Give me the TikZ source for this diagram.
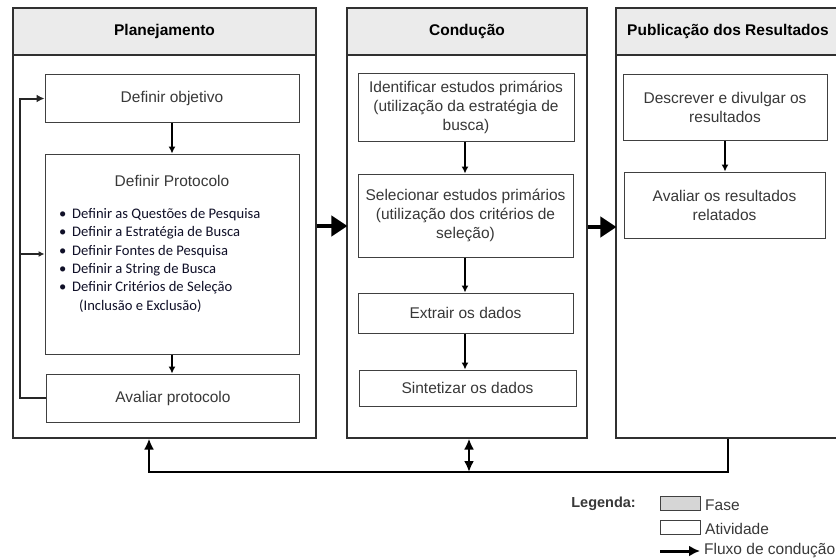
\documentclass[tikz,border=0pt]{standalone}
\usepackage{fontspec}
\setmainfont{Liberation Sans}
\newfontfamily\calib{Carlito}
\usetikzlibrary{arrows.meta}
\definecolor{headfill}{HTML}{EBEBEB}
\definecolor{legfill}{HTML}{D6D6D6}
\definecolor{actline}{HTML}{404040}
\definecolor{acttext}{HTML}{383838}
\definecolor{phaseline}{HTML}{303030}
\definecolor{bullettext}{HTML}{101028}
\tikzset{
  phasebox/.style={draw=phaseline, line width=1.1pt, fill=white, inner sep=0pt},
  phasehead/.style={draw=phaseline, line width=1.1pt, fill=headfill, inner sep=0pt,
     font=\fontsize{15.5}{19}\selectfont\bfseries, text=black},
  act/.style={draw=actline, line width=1pt, fill=white, text=acttext, inner sep=0pt,
     align=center, font=\fontsize{15.5}{19}\selectfont},
  small/.style={draw=black, line width=1.3pt, -{Latex[length=7pt,width=7pt]}},
  loopline/.style={draw=black!85, line width=2pt},
  flow/.style={draw=black, line width=4.5pt, -{Triangle[length=16pt,width=20pt]}, shorten >=-1pt},
  bus/.style={draw=black, line width=2.6pt},
  bushead/.tip={Latex[length=11pt,width=10pt]},
  legtext/.style={font=\fontsize{15.5}{19}\selectfont, text=acttext, inner sep=0pt, anchor=west},
}
\begin{document}
\begin{tikzpicture}[x=1pt,y=-1pt]
\useasboundingbox (0,0) rectangle (836,560);

% phases
\node[phasebox, minimum width=303, minimum height=430] (p1) at (164.5,223) {};
\node[phasehead, minimum width=303, minimum height=47] (h1) at (164.5,31.5) {Planejamento};
\node[phasebox, minimum width=240, minimum height=430] (p2) at (467,223) {};
\node[phasehead, minimum width=240, minimum height=47] (h2) at (467,31.5) {Condução};
\node[phasebox, minimum width=224, minimum height=430] (p3) at (728,223) {};
\node[phasehead, minimum width=224, minimum height=47] (h3) at (728,31.5) {Publicação dos Resultados};

% planejamento activities
\node[act, minimum width=254, minimum height=48] (obj) at (172,98.5) {Definir objetivo};
\node[act, minimum width=254, minimum height=200] (prot) at (172,254) {};
\node[font=\fontsize{15.5}{19}\selectfont, text=acttext, inner sep=0pt] (prott) at (172,181) {Definir Protocolo};
\node[anchor=north west, inner sep=0pt, align=left, text=bullettext,
      font=\calib\fontsize{14.6}{18.4}\selectfont] (plist) at (59,208) {%
\makebox[13pt][l]{\textbullet}Definir as Questões de Pesquisa\\
\makebox[13pt][l]{\textbullet}Definir a Estratégia de Busca\\
\makebox[13pt][l]{\textbullet}Definir Fontes de Pesquisa\\
\makebox[13pt][l]{\textbullet}Definir a String de Busca\\
\makebox[13pt][l]{\textbullet}Definir Critérios de Seleção\\
\hspace*{20pt}(Inclusão e Exclusão)};
\node[act, minimum width=253, minimum height=48] (aval) at (173,398) {Avaliar protocolo};

% conducao activities
\node[act, minimum width=216, minimum height=68] (iden) at (466,107)
  {Identificar estudos primários\\(utilização da estratégia de\\busca)};
\node[act, minimum width=215, minimum height=83] (sel) at (465.5,215.5)
  {Selecionar estudos primários\\(utilização dos critérios de\\seleção)};
\node[act, minimum width=215, minimum height=40] (ext) at (465.5,313) {Extrair os dados};
\node[act, minimum width=217, minimum height=36] (sin) at (467.5,388) {Sintetizar os dados};

% publicacao activities
\node[act, minimum width=204, minimum height=66] (desc) at (725,107) {Descrever e divulgar os\\resultados};
\node[act, minimum width=201, minimum height=66] (avr) at (724.5,205) {Avaliar os resultados\\relatados};

% small arrows
\draw[small] (obj.south) -- (prot.north);
\draw[small] (prot.south) -- (prot.south |- aval.north);
\draw[small] (465,0 |- iden.south) -- (465,0 |- sel.north);
\draw[small] (465,0 |- sel.south) -- (465,0 |- ext.north);
\draw[small] (465,0 |- ext.south) -- (465,0 |- sin.north);
\draw[small] (desc.south) -- (desc.south |- avr.north);

% loop in planejamento
\coordinate (lx) at (20,0);
\draw[loopline, -{Latex[length=8pt,width=8pt]}] (aval.west) -- (aval.west -| lx) -- (obj.west -| lx) -- (obj.west);
\draw[loopline, -{Latex[length=6pt,width=6pt]}] (prot.west -| lx) -- (prot.west);

% flow between phases
\draw[flow] (p1.east |- 0,226) -- (p2.west |- 0,226);
\draw[flow] (p2.east |- 0,227) -- (p3.west |- 0,227);

% bottom feedback
\coordinate (b1) at (149,472);
\coordinate (bm) at (469,472);
\draw[bus, -{bushead}] (p3.south) |- (b1) -- (p1.south -| b1);
\draw[bus, {bushead}-{bushead}] (bm) -- (p2.south -| bm);

% legend
\node[font=\fontsize{14.5}{17}\selectfont\bfseries, text=acttext, inner sep=0pt, anchor=east] (leg) at (636,504) {Legenda:};
\node[draw=actline, line width=1pt, fill=legfill, minimum width=40, minimum height=14, inner sep=0pt] (lf) at (680,503.5) {};
\node[legtext] (lft) at (705,505) {Fase};
\node[draw=actline, line width=1pt, fill=white, minimum width=40, minimum height=14, inner sep=0pt] (la) at (680,527.5) {};
\node[legtext] (lat) at (705,529) {Atividade};
\coordinate (lr1) at (660,551);
\coordinate (lr2) at (700,551);
\draw[line width=3pt, -{Latex[length=11pt,width=11pt]}] (lr1) -- (lr2);
\node[legtext] (lrt) at (704,551) {Fluxo de condução};
\end{tikzpicture}
\end{document}
